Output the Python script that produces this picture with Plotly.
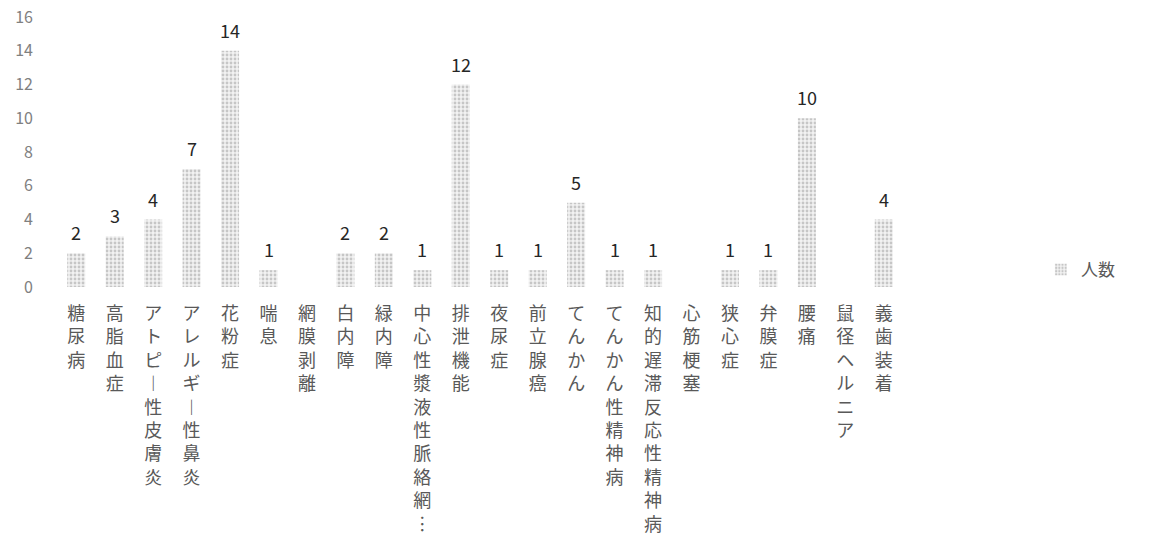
"""Bar chart of number of people per condition"""
import plotly.graph_objects as go

categories = [
    '糖尿病', '高脂血症', 'アトピー性皮膚炎', 'アレルギー性鼻炎', '花粉症', '喘息',
    '網膜剥離', '白内障', '緑内障', '中心性漿液性脈絡網…', '排泄機能', '夜尿症',
    '前立腺癌', 'てんかん', 'てんかん性精神病', '知的遅滞反応性精神病', '心筋梗塞',
    '狭心症', '弁膜症', '腰痛', '鼠径ヘルニア', '義歯装着',
]
counts = [2, 3, 4, 7, 14, 1, 0, 2, 2, 1, 12, 1, 1, 5, 1, 1, 0, 1, 1, 10, 0, 4]
y_ticks = [0, 2, 4, 6, 8, 10, 12, 14, 16]
series_name = '人数'


def vertical(label):
    # stack characters top to bottom, using vertical forms for ー and …
    swap = {'ー': '︱', '…': '︙'}
    return '<br>'.join(swap.get(ch, ch) for ch in label)


fig = go.Figure()

fig.add_trace(go.Bar(
    x=list(range(len(categories))),
    y=counts,
    name=series_name,
    marker=dict(
        color='#d6d6d6',
        line=dict(width=0),
        pattern=dict(shape='.', fgcolor='#999999', bgcolor='#f2f2f2', size=4, solidity=0.4),
    ),
    showlegend=True,
))

# value labels, a little above each bar (zero values stay unlabelled)
for i, v in enumerate(counts):
    if v:
        fig.add_annotation(
            x=i, y=v, text=str(v), showarrow=False,
            yanchor='bottom', yshift=6,
            font=dict(size=18, color='#262626'),
        )

fig.update_layout(
    width=1159,
    height=542,
    margin=dict(l=57, r=256, t=17, b=255),
    paper_bgcolor='white',
    plot_bgcolor='white',
    font=dict(family='Noto Sans CJK JP', color='#595959'),
    bargap=0.53,
    showlegend=True,
    legend=dict(x=1.163, y=0.063, xanchor='left', yanchor='middle',
                font=dict(size=17, color='#595959')),
)

fig.update_xaxes(
    tickmode='array',
    tickvals=list(range(len(categories))),
    ticktext=[vertical(c) for c in categories],
    tickfont=dict(size=18, color='#595959'),
    range=[-0.5, len(categories) - 0.5],
    showline=False,
    showgrid=False,
    zeroline=False,
    ticks='',
    ticklabelstandoff=14,
    automargin=False,
)

fig.update_yaxes(
    range=[0, 16],
    tickvals=y_ticks,
    tickfont=dict(size=16, color='#808080'),
    showgrid=False,
    zeroline=False,
    showline=False,
    ticks='',
    ticklabelstandoff=23,
    ticklabeloverflow='allow',
    automargin=False,
)

# drop the browser's default page margin so the figure sits at the top-left corner
fig.write_html("out.html", config={'displayModeBar': False},
               post_script="document.body.style.margin='0';")
